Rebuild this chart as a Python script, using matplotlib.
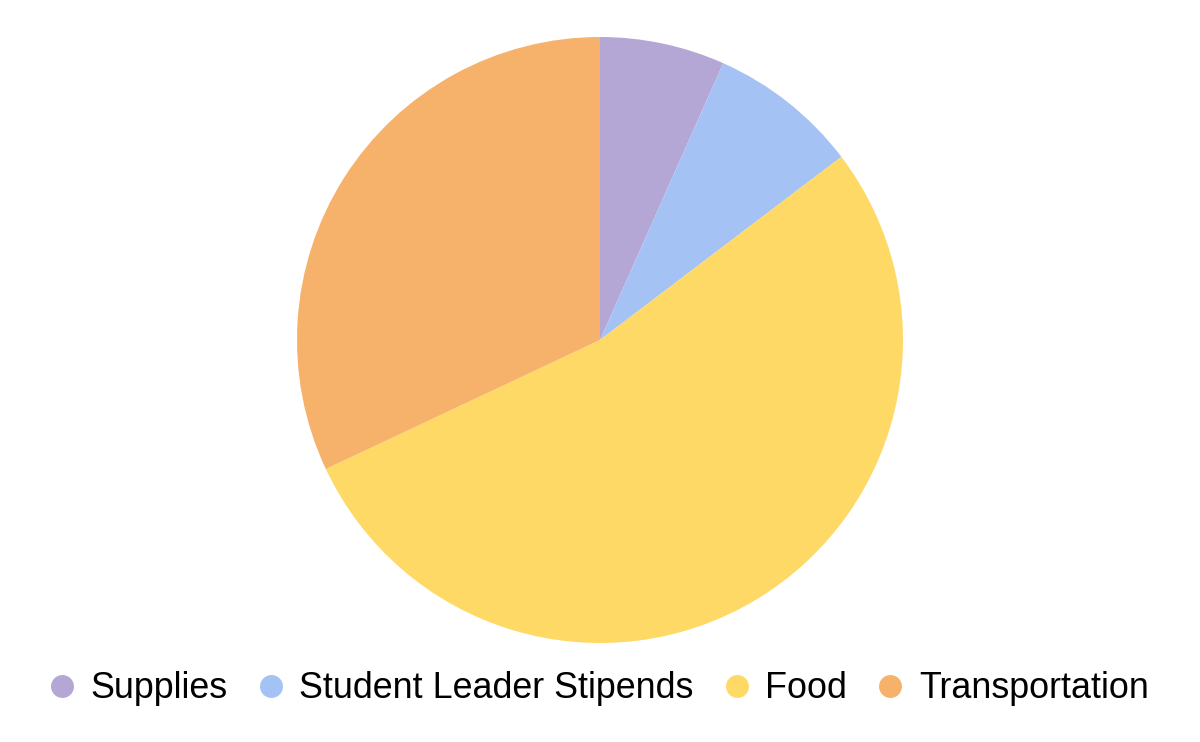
import matplotlib.pyplot as plt
from matplotlib.lines import Line2D

plt.rcParams['font.family'] = ['Liberation Sans', 'DejaVu Sans']

categories = ['Supplies', 'Student Leader Stipends', 'Food', 'Transportation']
amounts = [500, 600, 4000, 2400]
colors = ['#b4a7d6', '#a4c2f4', '#ffd966', '#f6b26b']

fig = plt.figure(figsize=(12, 7.42), dpi=100)
# pie area: center (600, 340) px, radius ~303 px
ax = fig.add_axes([297 / 1200, 99 / 742, 606 / 1200, 606 / 742])
ax.pie(amounts, colors=colors, startangle=90, counterclock=False,
       radius=1, wedgeprops={'linewidth': 0})
ax.set_xlim(-1, 1)
ax.set_ylim(-1, 1)
ax.set_aspect('equal')
ax.axis('off')

handles = [Line2D([0], [0], marker='o', linestyle='', markersize=16.5,
                  markerfacecolor=c, markeredgewidth=0) for c in colors]
fig.legend(handles, categories, loc='center', bbox_to_anchor=(0.5, 1 - 689 / 742),
           ncol=4, frameon=False, fontsize=25.8, handlelength=0.6,
           handletextpad=0.5, columnspacing=0.9, borderpad=0)

fig.savefig('out.png', dpi=100)
